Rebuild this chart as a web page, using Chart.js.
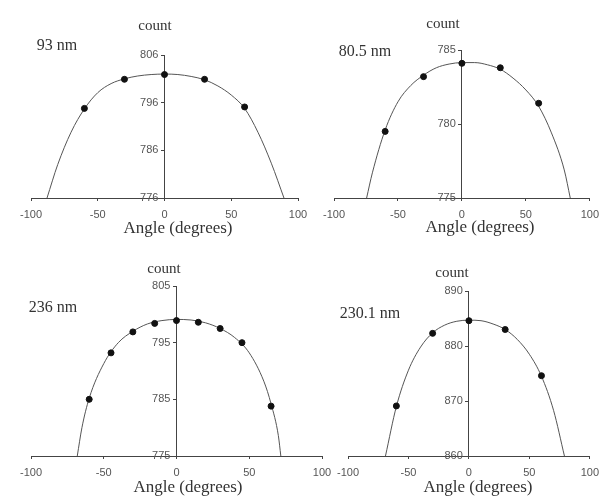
<!DOCTYPE html>
<html>
<head>
<meta charset="utf-8">
<script src="https://cdn.jsdelivr.net/npm/chart.js@4.4.0/dist/chart.umd.min.js"></script>
<style>
  html, body { margin: 0; padding: 0; background: #fff; }
  #wrap { position: relative; width: 607px; height: 498px; overflow: hidden; }
  canvas { position: absolute; left: 0; top: 0; }
  .lbl { position: absolute; transform: translate(-50%, -50%); font-family: "Liberation Serif", serif; color: #333; white-space: nowrap; }
  .count { font-size: 15px; }
  .nm { font-size: 16px; }
  .xt { font-size: 17px; }
</style>
</head>
<body>
<div id="wrap">
  <canvas id="c1" width="607" height="498"></canvas>
  <canvas id="c2" width="607" height="498"></canvas>
  <canvas id="c3" width="607" height="498"></canvas>
  <canvas id="c4" width="607" height="498"></canvas>

  <div class="lbl count" style="left:155px; top:25px;">count</div>
  <div class="lbl nm" style="left:57px; top:45px;">93 nm</div>
  <div class="lbl xt" style="left:178px; top:228px;">Angle (degrees)</div>

  <div class="lbl count" style="left:443px; top:23px;">count</div>
  <div class="lbl nm" style="left:365px; top:51px;">80.5 nm</div>
  <div class="lbl xt" style="left:480px; top:227px;">Angle (degrees)</div>

  <div class="lbl count" style="left:164px; top:268px;">count</div>
  <div class="lbl nm" style="left:53px; top:307px;">236 nm</div>
  <div class="lbl xt" style="left:188px; top:487px;">Angle (degrees)</div>

  <div class="lbl count" style="left:452px; top:272px;">count</div>
  <div class="lbl nm" style="left:370px; top:313px;">230.1 nm</div>
  <div class="lbl xt" style="left:478px; top:487px;">Angle (degrees)</div>
</div>

<script>
// x axis ticks (same for all four panels)
const xTicks = [-100, -50, 0, 50, 100];

// 93 nm
const angles1 = [-60, -30, 0, 30, 60];
const counts1 = [794.8, 800.9, 801.9, 800.9, 795.1];
const fitAngles1 = [-88, -80, -70, -60, -50, -40, -30, -20, -10, 0, 10, 20, 30, 40, 50, 60, 70, 80, 89.5];
const fitCounts1 = [776, 783, 789.8, 794.7, 798.1, 800.0, 801.0, 801.6, 801.9, 802.0, 801.9, 801.5, 800.8, 799.5, 797.6, 794.8, 789.8, 783.3, 776];
const yTicks1 = [776, 786, 796, 806];

// 80.5 nm
const angles2 = [-60, -30, 0, 30, 60];
const counts2 = [779.5, 783.2, 784.1, 783.8, 781.4];
const fitAngles2 = [-74.5, -70, -60, -50, -40, -30, -20, -10, 0, 10, 20, 30, 40, 50, 60, 70, 80, 84.7];
const fitCounts2 = [775, 776.7, 779.6, 781.5, 782.6, 783.3, 783.8, 784.05, 784.15, 784.15, 784.0, 783.7, 783.1, 782.3, 781.2, 779.4, 776.9, 775];
const yTicks2 = [775, 780, 785];

// 236 nm
const angles3 = [-60, -45, -30, -15, 0, 15, 30, 45, 65];
const counts3 = [785, 793.2, 796.9, 798.4, 798.9, 798.6, 797.5, 795, 783.8];
const fitAngles3 = [-68.2, -65, -60, -50, -40, -30, -20, -10, 0, 10, 20, 30, 40, 50, 60, 65, 70, 71.7];
const fitCounts3 = [775, 780, 785.2, 791.3, 795, 797.0, 798.3, 798.9, 799.1, 799.0, 798.5, 797.5, 795.9, 793.2, 788.2, 784.2, 778.6, 775];
const yTicks3 = [775, 785, 795, 805];

// 230.1 nm
const angles4 = [-60, -30, 0, 30, 60];
const counts4 = [869.1, 882.3, 884.6, 883.0, 874.6];
const fitAngles4 = [-69, -60, -50, -40, -30, -20, -10, 0, 10, 20, 30, 40, 50, 60, 70, 79];
const fitCounts4 = [860, 869, 875.6, 879.8, 882.4, 883.8, 884.5, 884.7, 884.6, 884.0, 883.0, 881.2, 878.5, 874.5, 868.3, 860];
const yTicks4 = [860, 870, 880, 890];

const W = 607, H = 498;
const X_AXIS_H = 30; // tick mark 3 + label 11 + padding 8 * 2

function pts(xs, ys) {
  return xs.map((x, i) => ({ x: x, y: ys[i] }));
}

function makeChart(id, angles, counts, fitAngles, fitCounts, yTicks, area) {
  const tickFont = { family: 'Liberation Sans', size: 11, lineHeight: 1 };
  return new Chart(document.getElementById(id), {
    type: 'scatter',
    data: {
      datasets: [{
        data: pts(angles, counts),
        pointRadius: 3,
        pointBackgroundColor: '#111',
        pointBorderColor: '#111',
        showLine: false
      }, {
        data: pts(fitAngles, fitCounts),
        showLine: true,
        pointRadius: 0,
        borderColor: '#555',
        borderWidth: 1,
        cubicInterpolationMode: 'monotone'
      }]
    },
    options: {
      responsive: false,
      animation: false,
      layout: {
        padding: { left: area.left, right: W - area.right, top: area.top, bottom: H - area.bottom - X_AXIS_H }
      },
      plugins: { legend: { display: false }, tooltip: { enabled: false } },
      scales: {
        x: {
          type: 'linear',
          position: 'bottom',
          min: xTicks[0],
          max: xTicks[xTicks.length - 1],
          ticks: { stepSize: xTicks[1] - xTicks[0], autoSkip: false, padding: 8, font: tickFont, color: '#555', maxRotation: 0 },
          grid: { drawOnChartArea: false, drawTicks: true, tickLength: 3, color: '#444' },
          border: { color: '#444', width: 1 }
        },
        y: {
          type: 'linear',
          position: { x: 0 },
          min: yTicks[0],
          max: yTicks[yTicks.length - 1],
          ticks: {
            stepSize: yTicks[1] - yTicks[0], autoSkip: false, font: tickFont, color: '#555',
            // centred axis ignores padding, so push the label off the line
            callback: v => v + '  '
          },
          grid: { drawOnChartArea: false, drawTicks: true, tickLength: 3, color: '#444' },
          border: { color: '#444', width: 1 }
        }
      }
    }
  });
}

makeChart('c1', angles1, counts1, fitAngles1, fitCounts1, yTicks1, { left: 31, right: 298, top: 55, bottom: 198 });
makeChart('c2', angles2, counts2, fitAngles2, fitCounts2, yTicks2, { left: 334, right: 601, top: 50, bottom: 198 });
makeChart('c3', angles3, counts3, fitAngles3, fitCounts3, yTicks3, { left: 31, right: 322, top: 286, bottom: 456 });
makeChart('c4', angles4, counts4, fitAngles4, fitCounts4, yTicks4, { left: 348, right: 601, top: 291, bottom: 456 });
</script>
</body>
</html>
